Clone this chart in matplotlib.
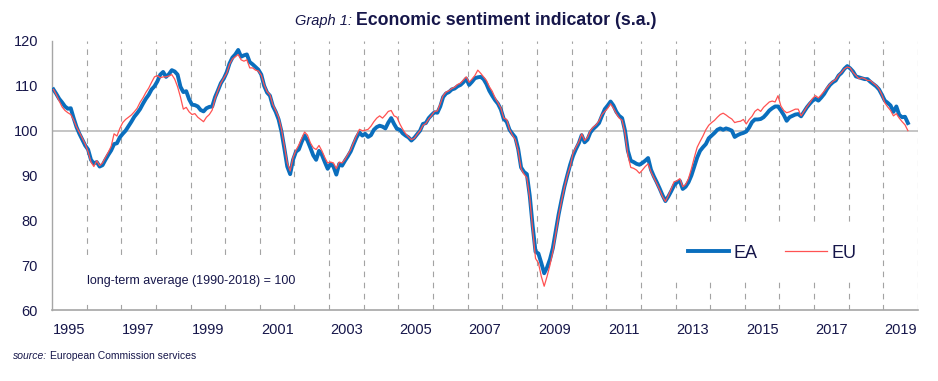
import numpy as np
import matplotlib
matplotlib.use("Agg")
import matplotlib.pyplot as plt
from matplotlib.patches import Rectangle

# ---------------- data (monthly, Jan 1995 - Sep 2019) ----------------
start_year = 1995
ea = [
    109.2, 108.2, 107.1, 106.3, 105.4, 104.9, 105.0, 102.8, 100.8, 99.3, 98.0, 96.7,      # 1995
    95.8, 93.5, 92.7, 93.0, 92.0, 92.3, 93.5, 94.6, 95.6, 97.0, 97.2, 98.5,               # 1996
    99.3, 100.0, 101.0, 102.0, 103.1, 103.9, 104.8, 106.0, 107.1, 108.0, 109.2, 109.9,    # 1997
    111.0, 112.5, 113.1, 112.0, 112.6, 113.5, 113.2, 112.5, 109.8, 108.6, 108.8, 107.0,   # 1998
    105.8, 105.7, 105.4, 104.6, 104.3, 105.0, 105.3, 105.4, 107.5, 109.0, 110.6, 111.6,   # 1999
    113.0, 115.0, 116.3, 117.0, 118.0, 116.5, 116.8, 117.0, 115.3, 114.8, 114.2, 113.6,   # 2000
    112.5, 110.0, 108.5, 107.8, 105.5, 104.2, 102.5, 99.8, 96.0, 92.0, 90.3, 93.5,        # 2001
    95.3, 95.8, 97.5, 98.9, 97.8, 96.2, 94.5, 93.5, 95.5, 94.6, 93.0, 91.5,               # 2002
    92.6, 92.0, 90.2, 92.6, 92.2, 93.3, 94.3, 95.4, 97.0, 98.5, 99.6, 98.9,               # 2003
    99.3, 98.6, 99.0, 100.2, 100.8, 101.1, 100.9, 100.5, 101.8, 102.8, 101.5, 100.4,      # 2004
    100.2, 99.4, 98.9, 98.5, 97.8, 98.4, 99.2, 100.0, 101.5, 101.7, 102.8, 103.5,         # 2005
    104.1, 104.0, 105.4, 107.5, 108.3, 108.6, 109.2, 109.4, 109.9, 110.2, 110.8, 111.6,   # 2006
    110.2, 110.9, 111.7, 111.9, 112.0, 111.5, 110.4, 108.9, 107.8, 106.8, 106.0, 104.7,   # 2007
    102.6, 102.0, 100.2, 99.3, 98.5, 95.9, 91.8, 90.8, 90.3, 85.5, 78.8, 73.0,            # 2008
    72.6, 70.5, 68.2, 69.5, 71.3, 73.8, 77.5, 81.3, 84.5, 87.5, 90.0, 92.4,               # 2009
    94.4, 95.9, 97.2, 99.0, 97.4, 98.0, 99.6, 100.4, 101.0, 101.7, 103.3, 104.8,          # 2010
    105.6, 106.5, 105.6, 104.2, 103.3, 102.8, 100.0, 95.5, 93.3, 93.0, 92.6, 92.4,        # 2011
    92.8, 93.3, 93.9, 91.3, 89.8, 88.5, 87.1, 85.6, 84.3, 85.3, 86.5, 87.8,               # 2012
    88.5, 88.8, 87.0, 87.5, 88.5, 90.0, 92.0, 94.0, 95.5, 96.3, 97.0, 98.3,               # 2013
    98.9, 99.5, 100.2, 100.5, 100.2, 100.5, 100.3, 100.0, 98.6, 99.0, 99.3, 99.5,         # 2014
    99.8, 100.7, 101.9, 102.5, 102.5, 102.6, 103.0, 103.7, 104.5, 105.0, 105.4, 105.4,    # 2015
    104.5, 103.5, 102.2, 103.0, 103.3, 103.6, 103.7, 103.2, 104.2, 105.2, 106.0, 106.7,   # 2016
    107.1, 106.7, 107.4, 108.2, 109.3, 110.2, 110.8, 111.2, 112.3, 112.9, 113.8, 114.4,   # 2017
    113.9, 113.2, 112.1, 111.9, 111.7, 111.5, 111.5, 110.9, 110.4, 109.9, 109.2, 108.0,   # 2018
    106.7, 106.2, 105.6, 104.2, 105.4, 103.5, 103.0, 103.1, 101.7,                        # 2019
]
eu = [
    109.2, 108.0, 106.6, 105.3, 104.5, 104.0, 103.6, 102.4, 100.8, 99.6, 98.3, 97.0,      # 1995
    95.3, 93.0, 92.0, 93.3, 92.2, 92.8, 94.0, 95.2, 96.5, 99.3, 98.8, 100.5,              # 1996
    101.8, 102.5, 103.0, 103.5, 104.2, 105.0, 106.3, 107.3, 108.5, 109.5, 110.8, 112.0,   # 1997
    112.3, 111.8, 112.0, 112.0, 112.2, 112.5, 111.5, 109.8, 107.5, 104.8, 105.2, 104.2,   # 1998
    103.6, 103.8, 103.0, 102.5, 102.0, 103.0, 103.6, 104.6, 107.2, 109.0, 110.6, 111.7,   # 1999
    112.8, 114.8, 116.0, 116.5, 117.0, 115.8, 115.5, 115.8, 114.0, 114.0, 113.5, 113.3,   # 2000
    112.4, 110.2, 108.7, 108.0, 105.8, 104.5, 103.0, 100.3, 96.5, 92.8, 91.0, 94.0,       # 2001
    95.6, 96.8, 98.3, 99.7, 99.0, 97.3, 96.2, 95.8, 96.7, 95.5, 94.0, 92.8,               # 2002
    93.0, 92.8, 91.5, 93.0, 92.8, 93.6, 94.7, 95.8, 97.4, 98.9, 100.3, 100.0,             # 2003
    100.1, 100.3, 101.0, 102.0, 102.8, 103.3, 102.8, 103.5, 104.3, 104.5, 103.3, 103.0,   # 2004
    101.5, 100.3, 99.3, 98.6, 98.0, 98.3, 99.2, 100.0, 101.2, 101.6, 102.6, 103.4,        # 2005
    104.3, 104.4, 106.0, 107.8, 108.6, 108.9, 109.4, 109.7, 110.3, 110.6, 111.3, 112.0,   # 2006
    110.8, 111.5, 112.3, 113.5, 112.8, 112.0, 111.2, 109.8, 108.8, 107.3, 106.2, 105.0,   # 2007
    102.8, 102.5, 100.3, 99.0, 98.0, 95.5, 91.5, 90.3, 89.5, 85.0, 78.0, 71.5,            # 2008
    70.5, 67.5, 65.3, 67.5, 70.0, 73.0, 77.0, 81.0, 84.3, 87.3, 90.0, 92.0,               # 2009
    95.0, 96.3, 97.5, 99.3, 97.8, 98.5, 100.0, 100.8, 101.3, 102.2, 103.6, 104.3,         # 2010
    105.0, 106.0, 105.0, 103.8, 102.8, 102.3, 99.5, 94.5, 91.8, 91.6, 91.2, 90.5,         # 2011
    91.2, 92.0, 92.6, 90.8, 89.5, 88.2, 86.8, 85.3, 84.2, 85.5, 87.0, 88.6,               # 2012
    88.8, 89.3, 87.5, 88.0, 89.3, 91.5, 94.0, 96.3, 97.6, 98.8, 100.2, 101.2,             # 2013
    101.8, 102.3, 103.0, 103.6, 103.9, 103.5, 103.0, 102.6, 101.8, 102.0, 102.1, 102.5,   # 2014
    101.5, 102.5, 103.2, 104.3, 104.8, 104.3, 105.2, 105.8, 106.4, 106.6, 106.4, 107.8,   # 2015
    105.5, 104.5, 104.0, 104.2, 104.5, 104.8, 104.8, 103.3, 104.3, 105.3, 106.2, 107.2,   # 2016
    107.8, 107.3, 108.0, 108.8, 109.6, 110.4, 111.0, 111.4, 112.4, 113.0, 113.8, 114.2,   # 2017
    114.0, 113.0, 112.3, 111.6, 111.8, 111.6, 111.2, 111.2, 110.6, 110.1, 109.3, 108.0,   # 2018
    106.2, 105.3, 104.5, 103.3, 103.8, 102.8, 102.0, 101.3, 100.0,                        # 2019
]
year_labels = [str(y) for y in range(1995, 2020, 2)]
y_ticks = [60, 70, 80, 90, 100, 110, 120]
series_names = ["EA", "EU"]

# ---------------- style ----------------
navy = "#16164a"
blue = "#0a6ebd"
red = "#ff5252"
grid_grey = "#a3a3a3"
plt.rcParams["font.family"] = ["Liberation Sans", "DejaVu Sans"]

W, H = 938, 381
fig = plt.figure(figsize=(W / 100, H / 100), dpi=100)
ax = fig.add_axes([52 / W, 1 - 310 / H, (918 - 52) / W, (310 - 41) / H])

t = start_year + (np.arange(len(ea)) + 0.5) / 12.0

# year separators
for yr in range(start_year + 1, 2021):
    ax.axvline(yr, color=grid_grey, lw=0.8, ls=(0, (5, 5)), zorder=1)
ax.axhline(100, color="#b5b5b5", lw=1.1, zorder=1)

# white boxes behind the note and the legend (they hide the gridlines)
for (x0, y0, x1, y1) in [(80, 257, 310, 302), (660, 225, 870, 278)]:
    ax.add_patch(Rectangle((x0 / W, 1 - y1 / H), (x1 - x0) / W, (y1 - y0) / H,
                           transform=fig.transFigure, facecolor="white",
                           edgecolor="none", zorder=2))

ax.plot(t, ea, color=blue, lw=2.8, solid_joinstyle="round", zorder=3, label=series_names[0])
ax.plot(t, eu, color=red, lw=0.9, zorder=4, label=series_names[1])

ax.set_xlim(1995, 2020)
ax.set_ylim(60, 120)
ax.set_yticks(y_ticks)
ax.set_yticklabels([str(v) for v in y_ticks])
ax.set_xticks([])
ax.set_xticks([int(s) + 0.5 for s in year_labels], minor=True)
ax.set_xticklabels(year_labels, minor=True)
ax.tick_params(axis="y", length=0, pad=10, labelsize=10.5, labelcolor=navy)
ax.tick_params(axis="x", which="both", length=0, pad=9, labelsize=10.5, labelcolor=navy)

for s in ["top", "right"]:
    ax.spines[s].set_visible(False)
ax.spines["left"].set_color("#a6a6a6")
ax.spines["bottom"].set_color("#a6a6a6")
ax.spines["left"].set_linewidth(1.0)
ax.spines["bottom"].set_linewidth(1.2)

ax.text(1996.02, 66.4, "long-term average (1990-2018) = 100", fontsize=9,
        color=navy, va="center", ha="left", zorder=5)

leg = ax.legend(loc="center", bbox_to_anchor=(772 / W, 1 - 253 / H),
                bbox_transform=fig.transFigure, ncol=2, frameon=False,
                fontsize=13, handlelength=2.3, handletextpad=0.25,
                columnspacing=1.5)
leg.set_zorder(6)
for txt in leg.get_texts():
    txt.set_color(navy)

# title
fig.text(352 / W, 1 - 25 / H, "Graph 1:", fontsize=10.5, style="italic",
         color=navy, ha="right", va="baseline")
fig.text(356 / W, 1 - 25 / H, "Economic sentiment indicator (s.a.)", fontsize=12.8,
         color=navy, ha="left", va="baseline", fontweight="bold")

# source
fig.text(13 / W, 1 - 359 / H, "source:", fontsize=7.5, style="italic",
         color=navy, ha="left", va="baseline")
fig.text(50 / W, 1 - 359 / H, "European Commission services", fontsize=7.5,
         color=navy, ha="left", va="baseline")

fig.savefig("out.png", dpi=100)
